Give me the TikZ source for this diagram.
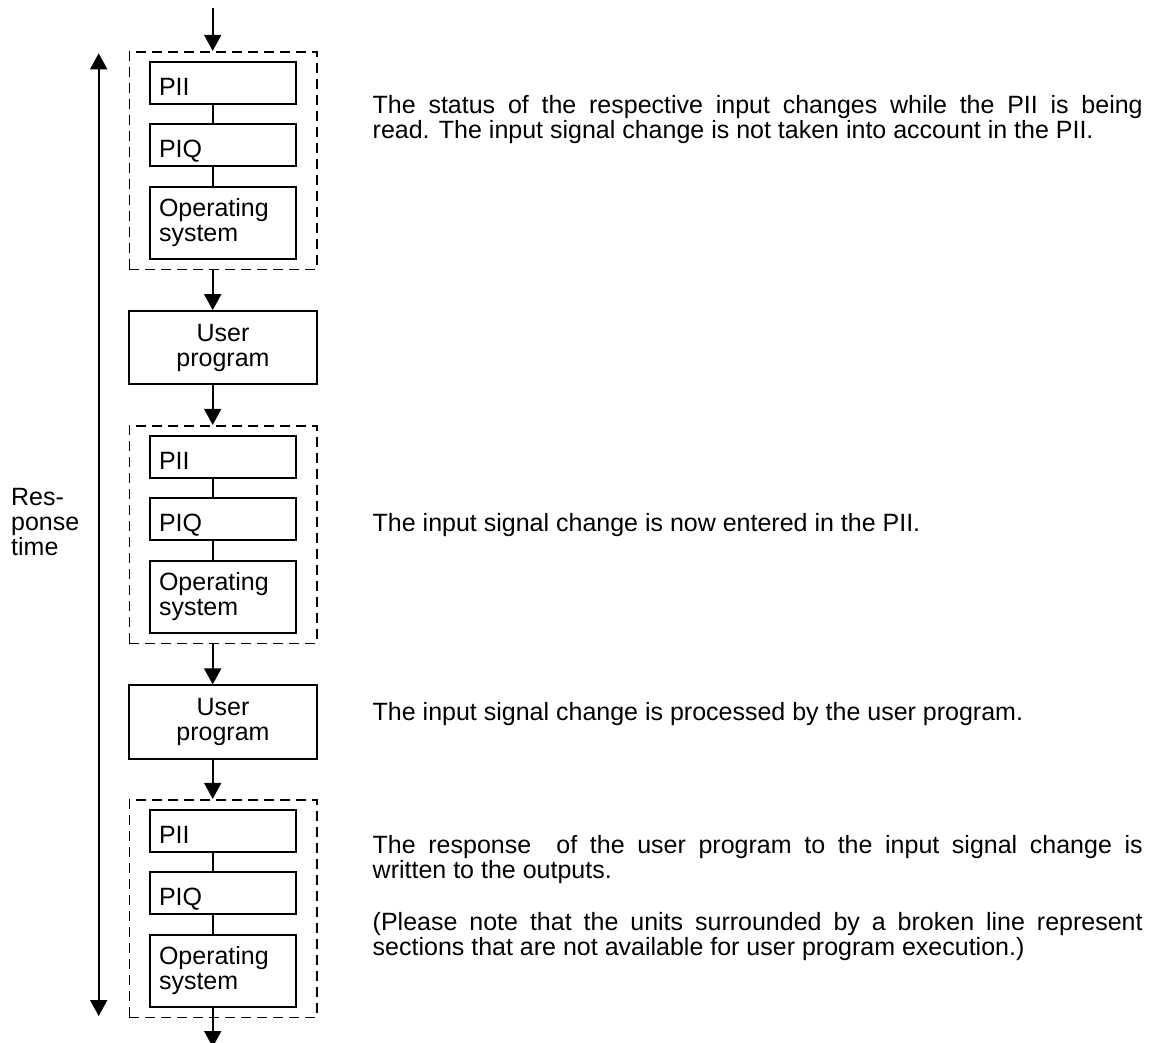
\documentclass[tikz,border=0pt]{standalone}
\usepackage{fontspec}
\setmainfont{Liberation Sans}
\usetikzlibrary{arrows.meta}
\begin{document}
\begin{tikzpicture}[x=1pt,y=-1pt,
  every node/.style={font=\fontsize{25pt}{25pt}\selectfont},
  box/.style={draw, line width=1.8pt, inner sep=0pt},
  inbox/.style={box, minimum width=146pt, text width=128pt, inner xsep=9pt, inner ysep=0pt, align=left},
  oneline/.style={inbox, minimum height=42pt, text height=26pt, text depth=0pt},
  osbox/.style={inbox, minimum height=72.6pt},
  userbox/.style={box, minimum width=187.4pt, minimum height=73.3pt, align=center},
  grpbox/.style={draw, line width=1.6pt, dash pattern=on 10pt off 6pt, minimum width=187.4pt, minimum height=217.6pt, inner sep=0pt},
  link/.style={line width=1.8pt},
  arr/.style={line width=1.8pt, -{Triangle[width=17pt,length=16pt]}},
  dblarr/.style={line width=1.8pt, {Triangle[width=17pt,length=16pt]}-{Triangle[width=17pt,length=16pt]}},
  ptxt/.style={anchor=base west, align=left, inner sep=0pt}
]
\useasboundingbox (0,0) rectangle (1153,1042);

\coordinate (xl) at (212.7,0);

% groups
\foreach \k/\o in {1/0,2/374,3/748}{
  \node[grpbox] (grp\k) at (223,160.5+\o) {};
  \node[oneline] (pii\k) at (223,82.7+\o) {PII};
  \node[oneline] (piq\k) at (223,144.9+\o) {PIQ};
  \node[osbox] (os\k) at (223,223+\o) {Operating\\system};
  \draw[link] (pii\k.south -| xl) -- (piq\k.north -| xl);
  \draw[link] (piq\k.south -| xl) -- (os\k.north -| xl);
}

\node[userbox] (up1) at (223,347.7) {User\\program};
\node[userbox] (up2) at (223,722) {User\\program};

\coordinate (top) at (212.7,8);
\coordinate (bot) at (212.7,1047);
\draw[arr] (top) -- (grp1.north -| xl);
\draw[arr] (grp1.south -| xl) -- (up1.north -| xl);
\draw[arr] (up1.south -| xl) -- (grp2.north -| xl);
\draw[arr] (grp2.south -| xl) -- (up2.north -| xl);
\draw[arr] (up2.south -| xl) -- (grp3.north -| xl);
\draw[arr] (os3.south -| xl) -- (bot);

% response time arrow
\coordinate (rt1) at (98.7,53.3);
\coordinate (rt2) at (98.7,1016);
\draw[dblarr] (rt1) -- (rt2);
\node[ptxt] (resp) at (11,555) {Res-\\ponse\\time};

% explanations (base anchor = last line's baseline)
\node[ptxt] (p1) at (372.5,138.3) {\makebox[770pt][s]{The status of the respective input changes while the PII is being}\\read. The input signal change is not taken into account in the PII.};
\node[ptxt] (p2) at (372.5,531) {The input signal change is now entered in the PII.};
\node[ptxt] (p3) at (372.5,720) {The input signal change is processed by the user program.};
\node[ptxt] (p4) at (372.5,878) {\makebox[770pt][s]{The response\ \ of the user program to the input signal change is}\\written to the outputs.};
\node[ptxt] (p5) at (372.5,955) {\makebox[770pt][s]{(Please note that the units surrounded by a broken line represent}\\sections that are not available for user program execution.)};
\end{tikzpicture}
\end{document}
